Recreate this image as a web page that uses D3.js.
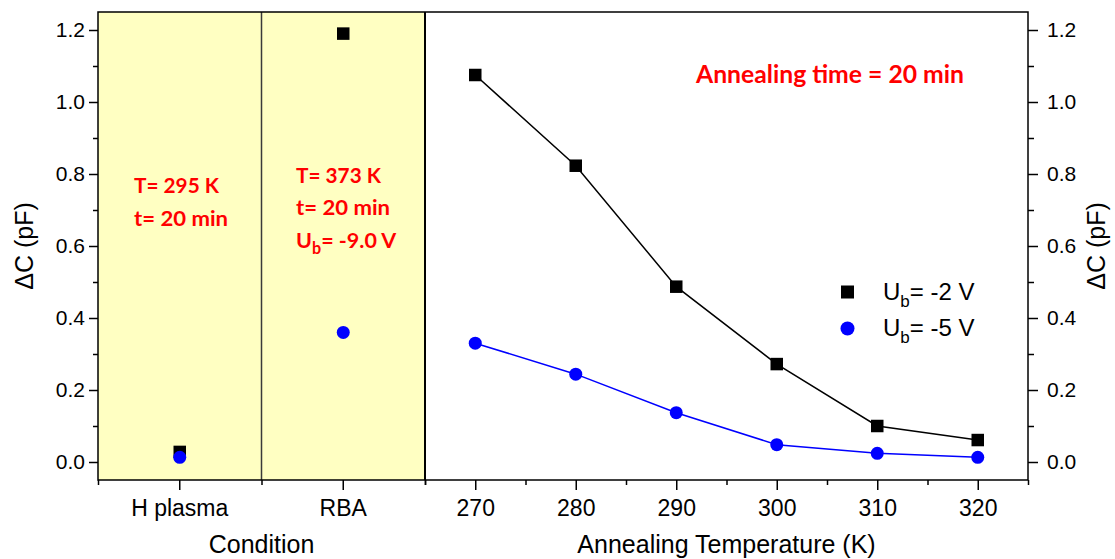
<!DOCTYPE html>
<html>
<head>
<meta charset="utf-8">
<script src="https://cdn.jsdelivr.net/npm/d3@7"></script>
<style>
  html, body { margin: 0; padding: 0; background: #fff; }
  svg { display: block; }
  .tick text { font-family: "Liberation Sans", Arial, sans-serif; fill: #000; }
</style>
</head>
<body>
<svg id="chart" width="1115" height="559"></svg>
<script>
// ---------- data ----------
const conditions = ["H plasma", "RBA"];
const condSquare = [0.028, 1.19];   // U_b = -2 V
const condCircle = [0.013, 0.36];   // U_b = -5 V

const temperatures = [270, 280, 290, 300, 310, 320];
const tempSquare = [1.075, 0.823, 0.487, 0.272, 0.100, 0.061]; // U_b = -2 V
const tempCircle = [0.330, 0.244, 0.137, 0.048, 0.024, 0.013]; // U_b = -5 V

const yMajorTicks = [0.0, 0.2, 0.4, 0.6, 0.8, 1.0, 1.2];
const yMinorTicks = [0.1, 0.3, 0.5, 0.7, 0.9, 1.1];
const tempMajorTicks = [270, 280, 290, 300, 310, 320];
const tempMinorTicks = [265, 275, 285, 295, 305, 315, 325];

const legendLabels = ["-2 V", "-5 V"];

// ---------- layout ----------
(function () {
const svg = d3.select("#chart");
const pTop = 12, pBottom = 480, pLeft = 98, pMid = 425, pRight = 1028;
const FONT = "'Liberation Sans', Arial, sans-serif";
const BOLD = "Lato, 'Open Sans', sans-serif";

const y = d3.scaleLinear().domain([-0.05, 1.25]).range([pBottom, pTop]);
const xCond = d3.scaleBand().domain(conditions).range([pLeft, pMid]).padding(0);
const xTemp = d3.scaleLinear().domain([265, 325]).range([pMid, pRight]);
const cx = c => xCond(c) + xCond.bandwidth() / 2;

// yellow background of condition panel
svg.append("rect")
  .attr("x", pLeft).attr("y", pTop)
  .attr("width", pMid - pLeft).attr("height", pBottom - pTop)
  .attr("fill", "#FFFFC2");

// divider between H plasma and RBA
svg.append("line")
  .attr("x1", xCond("RBA")).attr("x2", xCond("RBA"))
  .attr("y1", pTop).attr("y2", pBottom)
  .attr("stroke", "#3a3a3a").attr("stroke-width", 1.5);
// divider between panels
svg.append("line")
  .attr("x1", pMid).attr("x2", pMid)
  .attr("y1", pTop).attr("y2", pBottom)
  .attr("stroke", "#000").attr("stroke-width", 2);

// ---------- lines ----------
const line = d3.line().x(d => xTemp(d[0])).y(d => y(d[1]));
svg.append("path")
  .datum(temperatures.map((t, i) => [t, tempSquare[i]]))
  .attr("d", line).attr("fill", "none")
  .attr("stroke", "#000").attr("stroke-width", 1.5);
svg.append("path")
  .datum(temperatures.map((t, i) => [t, tempCircle[i]]))
  .attr("d", line).attr("fill", "none")
  .attr("stroke", "#0000FF").attr("stroke-width", 1.5);

// ---------- markers ----------
const S = 12.5, R = 6.5;
function squares(data) {
  svg.append("g").selectAll("rect").data(data).join("rect")
    .attr("x", d => d.x - S / 2).attr("y", d => d.y - S / 2)
    .attr("width", S).attr("height", S).attr("fill", "#000");
}
function circles(data) {
  svg.append("g").selectAll("circle").data(data).join("circle")
    .attr("cx", d => d.x).attr("cy", d => d.y).attr("r", R)
    .attr("fill", "#0000FF");
}
squares(conditions.map((c, i) => ({ x: cx(c), y: y(condSquare[i]) })));
circles(conditions.map((c, i) => ({ x: cx(c), y: y(condCircle[i]) })));
squares(temperatures.map((t, i) => ({ x: xTemp(t), y: y(tempSquare[i]) })));
circles(temperatures.map((t, i) => ({ x: xTemp(t), y: y(tempCircle[i]) })));

// ---------- axes ----------
function styleAxis(g, size) {
  g.select(".domain").remove();
  g.selectAll(".tick line").attr("stroke", "#000").attr("stroke-width", 1.5);
  g.selectAll(".tick text").style("font-size", size + "px").style("font-family", FONT);
}
// left
svg.append("g").attr("transform", `translate(${pLeft},0)`)
  .call(d3.axisLeft(y).tickValues(yMinorTicks).tickSize(5).tickFormat(""))
  .call(g => styleAxis(g, 21));
svg.append("g").attr("transform", `translate(${pLeft},0)`)
  .call(d3.axisLeft(y).tickValues(yMajorTicks).tickSize(9).tickPadding(4).tickFormat(d3.format(".1f")))
  .call(g => styleAxis(g, 21));
// right
svg.append("g").attr("transform", `translate(${pRight},0)`)
  .call(d3.axisRight(y).tickValues(yMinorTicks).tickSize(6).tickFormat(""))
  .call(g => styleAxis(g, 21));
svg.append("g").attr("transform", `translate(${pRight},0)`)
  .call(d3.axisRight(y).tickValues(yMajorTicks).tickSize(10).tickPadding(9).tickFormat(d3.format(".1f")))
  .call(g => styleAxis(g, 21));
// bottom: conditions
svg.append("g").attr("transform", `translate(0,${pBottom})`)
  .call(d3.axisBottom(xCond).tickSize(10).tickPadding(10))
  .call(g => styleAxis(g, 23));
const condEdges = d3.scaleLinear().domain([0, conditions.length]).range([pLeft, pMid]);
svg.append("g").attr("transform", `translate(0,${pBottom})`)
  .call(d3.axisBottom(condEdges).tickValues(d3.range(0, conditions.length + 1)).tickSize(5).tickFormat(""))
  .call(g => styleAxis(g, 23));
// bottom: temperature
svg.append("g").attr("transform", `translate(0,${pBottom})`)
  .call(d3.axisBottom(xTemp).tickValues(tempMinorTicks).tickSize(5).tickFormat(""))
  .call(g => styleAxis(g, 23));
svg.append("g").attr("transform", `translate(0,${pBottom})`)
  .call(d3.axisBottom(xTemp).tickValues(tempMajorTicks).tickSize(10).tickPadding(10).tickFormat(d3.format("d")))
  .call(g => styleAxis(g, 23));

// frame
svg.append("rect")
  .attr("x", pLeft).attr("y", pTop)
  .attr("width", pRight - pLeft).attr("height", pBottom - pTop)
  .attr("fill", "none").attr("stroke", "#000").attr("stroke-width", 1.5);

// ---------- axis titles ----------
function title(x, yy, txt, rot) {
  svg.append("text")
    .attr("transform", `translate(${x},${yy})` + (rot ? " rotate(-90)" : ""))
    .attr("text-anchor", "middle")
    .style("font-family", FONT).style("font-size", "25px").attr("fill", "#000")
    .text(txt);
}
title(33, (pTop + pBottom) / 2, "ΔC (pF)", true);
title(1105, (pTop + pBottom) / 2, "ΔC (pF)", true);
title((pLeft + pMid) / 2, 553, "Condition", false);
title((pMid + pRight) / 2, 553, "Annealing Temperature (K)", false);

// ---------- legend ----------
const legY = [292, 328.5];
svg.append("rect").attr("x", 847.5 - 6.5).attr("y", legY[0] - 6.5)
  .attr("width", 13).attr("height", 13).attr("fill", "#000");
svg.append("circle").attr("cx", 847.5).attr("cy", legY[1]).attr("r", 7)
  .attr("fill", "#0000FF");
legendLabels.forEach((lab, i) => {
  const t = svg.append("text").attr("x", 883).attr("y", legY[i] + 7.5)
    .style("font-family", FONT).style("font-size", "24px").attr("fill", "#000");
  t.append("tspan").text("U");
  t.append("tspan").attr("dy", 7).style("font-size", "17px").text("b");
  t.append("tspan").attr("dy", -7).text("= " + lab);
});

// ---------- annotations ----------
function redText(x, yy, parts, size, len) {
  const t = svg.append("text").attr("x", x).attr("y", yy)
    .style("font-family", BOLD).style("font-weight", "bold")
    .style("font-size", size + "px").attr("fill", "#FF0000");
  if (len) t.attr("textLength", len).attr("lengthAdjust", "spacingAndGlyphs");
  parts.forEach(p => {
    const s = t.append("tspan").text(p.t);
    if (p.sub) s.attr("dy", 6).style("font-size", (size * 0.75) + "px");
    if (p.back) s.attr("dy", -6);
  });
  return t;
}
redText(696, 83, [{ t: "Annealing time = 20 min" }], 24, 268);
redText(134, 193, [{ t: "T= 295 K" }], 21.5, 85);
redText(134, 226, [{ t: "t= 20 min" }], 21.5, 94);
redText(296, 183, [{ t: "T= 373 K" }], 21.5, 85);
redText(296, 215, [{ t: "t= 20 min" }], 21.5, 94);
redText(296, 248, [{ t: "U" }, { t: "b", sub: true }, { t: "= -9.0 V", back: true }], 21.5);
})();
</script>
</body>
</html>
